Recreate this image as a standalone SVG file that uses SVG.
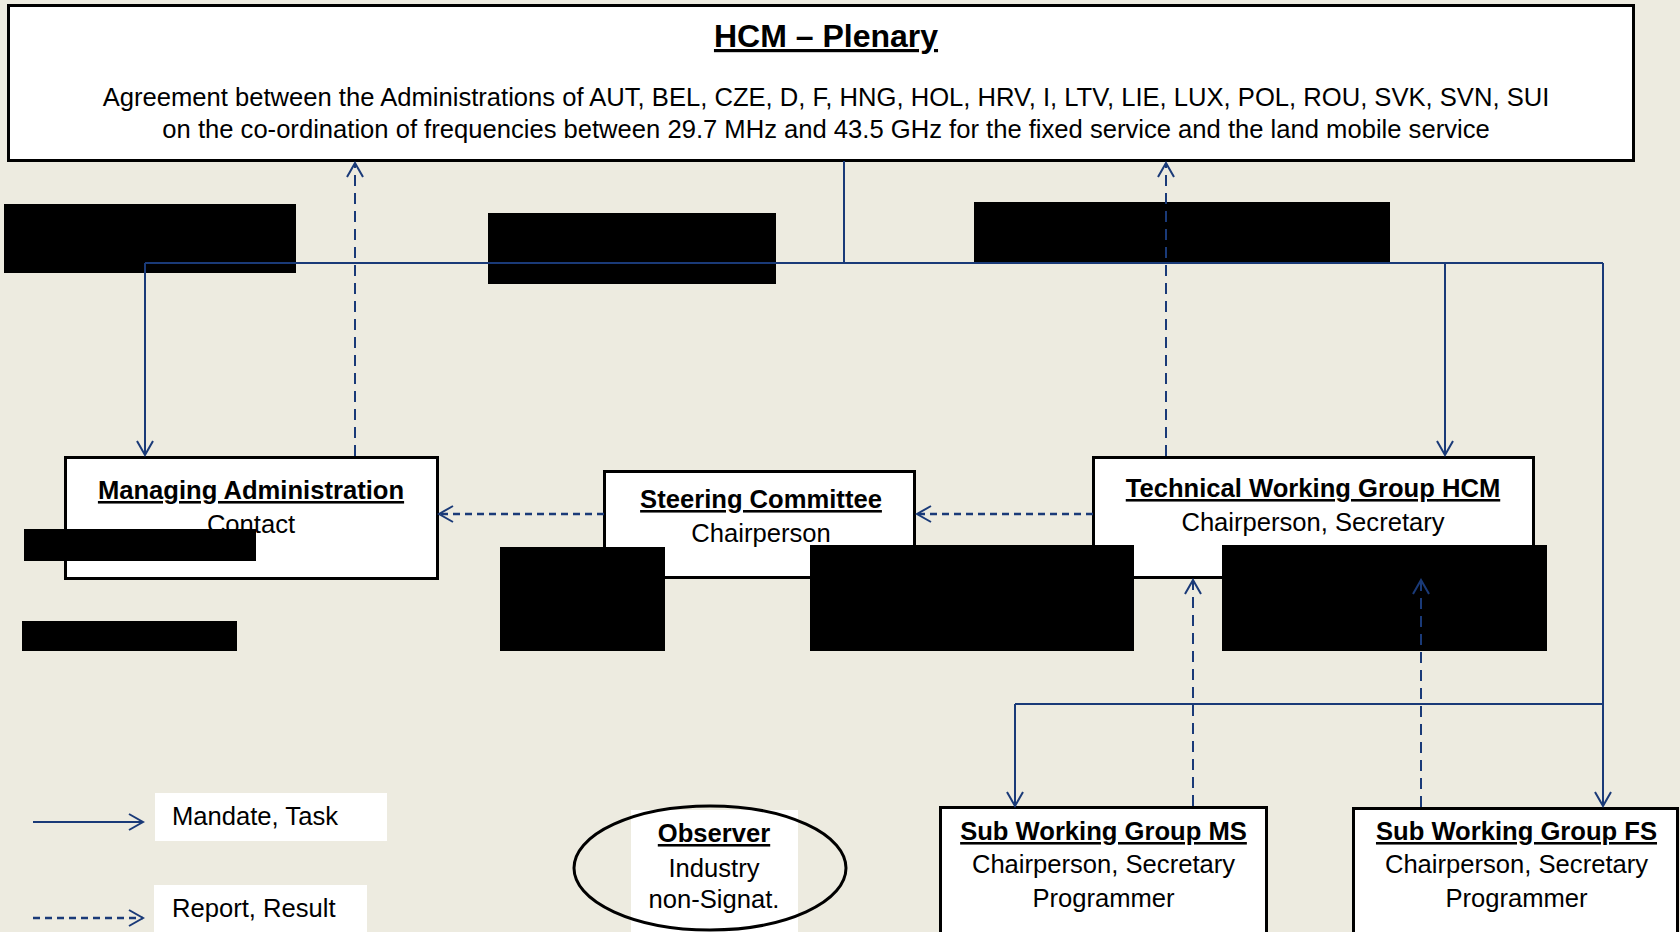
<svg xmlns="http://www.w3.org/2000/svg" width="1680" height="932" viewBox="0 0 1680 932">
<defs>
<style>
.bg{fill:#EDEBE0}
.box{fill:#FFFFFF;stroke:#000000;stroke-width:3}
.red{fill:#000000}
.wl{fill:#FFFFFF}
.t{font-family:"Liberation Sans",Arial,sans-serif;font-size:25.6px;fill:#000000;text-anchor:middle}
.b{font-weight:bold;text-decoration:underline}
.l{text-anchor:start}
.c{fill:none;stroke:#1A3A78;stroke-width:2}
.d{stroke-dasharray:7 5;stroke-width:2.5}
.v{stroke-dasharray:11 7;stroke-width:2}
</style>
<marker id="arr" markerUnits="userSpaceOnUse" markerWidth="18" markerHeight="20" viewBox="0 0 18 20" refX="16" refY="10" orient="auto">
<path d="M2,2 L16,10 L2,18" fill="none" stroke="#1A3A78" stroke-width="2"/>
</marker>
</defs>
<rect class="bg" x="0" y="0" width="1680" height="932"/>

<g id="plenary">
<rect class="box" x="8.5" y="5.5" width="1625" height="155"/>
<text class="t b" x="826" y="47" style="font-size:32px">HCM – Plenary</text>
<text class="t" x="826" y="106">Agreement between the Administrations of AUT, BEL, CZE, D, F, HNG, HOL, HRV, I, LTV, LIE, LUX, POL, ROU, SVK, SVN, SUI</text>
<text class="t" x="826" y="138">on the co-ordination of frequencies between 29.7 MHz and 43.5 GHz for the fixed service and the land mobile service</text>
</g>

<g id="managing-administration">
<rect class="box" x="65.5" y="457.5" width="372" height="121"/>
<text class="t b" x="251" y="499">Managing Administration</text>
<text class="t" x="251" y="533">Contact</text>
</g>

<g id="steering-committee">
<rect class="box" x="604.5" y="471.5" width="310" height="106"/>
<text class="t b" x="761" y="508">Steering Committee</text>
<text class="t" x="761" y="542">Chairperson</text>
</g>

<g id="technical-working-group">
<rect class="box" x="1093.5" y="457.5" width="440" height="120"/>
<text class="t b" x="1313" y="497">Technical Working Group HCM</text>
<text class="t" x="1313" y="531">Chairperson, Secretary</text>
</g>

<g id="sub-working-group-ms">
<rect class="box" x="940.5" y="807.5" width="326" height="140"/>
<text class="t b" x="1103.5" y="840">Sub Working Group MS</text>
<text class="t" x="1103.5" y="873">Chairperson, Secretary</text>
<text class="t" x="1103.5" y="907">Programmer</text>
</g>

<g id="sub-working-group-fs">
<rect class="box" x="1353.5" y="808.5" width="324" height="140"/>
<text class="t b" x="1516.5" y="840">Sub Working Group FS</text>
<text class="t" x="1516.5" y="873">Chairperson, Secretary</text>
<text class="t" x="1516.5" y="907">Programmer</text>
</g>

<g id="observer">
<rect class="wl" x="631" y="810" width="167" height="122"/>
<ellipse cx="710" cy="868" rx="136" ry="62" fill="none" stroke="#000000" stroke-width="3"/>
<text class="t b" x="714" y="842">Observer</text>
<text class="t" x="714" y="877">Industry</text>
<text class="t" x="714" y="908">non-Signat.</text>
</g>

<g id="redactions">
<rect class="red" x="4" y="204" width="292" height="69"/>
<rect class="red" x="488" y="213" width="288" height="71"/>
<rect class="red" x="974" y="202" width="416" height="62"/>
<rect class="red" x="24" y="529" width="232" height="32"/>
<rect class="red" x="22" y="621" width="215" height="30"/>
<rect class="red" x="500" y="547" width="165" height="104"/>
<rect class="red" x="810" y="545" width="324" height="106"/>
<rect class="red" x="1222" y="545" width="325" height="106"/>
</g>

<g id="legend">
<rect class="wl" x="155" y="793" width="232" height="48"/>
<rect class="wl" x="154" y="885" width="213" height="47"/>
<path class="c" d="M33,822 H143" marker-end="url(#arr)"/>
<path class="c d" d="M33,918 H143" marker-end="url(#arr)"/>
<text class="t l" x="172" y="825">Mandate, Task</text>
<text class="t l" x="172" y="917">Report, Result</text>
</g>

<g id="connectors">
<path class="c" d="M844,161 V263 M145,263 H1603 M1603,704 H1015"/>
<path class="c" d="M145,263 V455" marker-end="url(#arr)"/>
<path class="c" d="M1445,263 V455" marker-end="url(#arr)"/>
<path class="c" d="M1603,263 V806" marker-end="url(#arr)"/>
<path class="c" d="M1015,704 V806" marker-end="url(#arr)"/>
<path class="c v" d="M355,456 V163" marker-end="url(#arr)"/>
<path class="c v" d="M1166,456 V163" marker-end="url(#arr)"/>
<path class="c d" d="M604,514 H439" marker-end="url(#arr)"/>
<path class="c d" d="M1093,514 H917" marker-end="url(#arr)"/>
<path class="c v" d="M1193,806 V580" marker-end="url(#arr)"/>
<path class="c v" d="M1421,807 V580" marker-end="url(#arr)"/>
</g>
</svg>
